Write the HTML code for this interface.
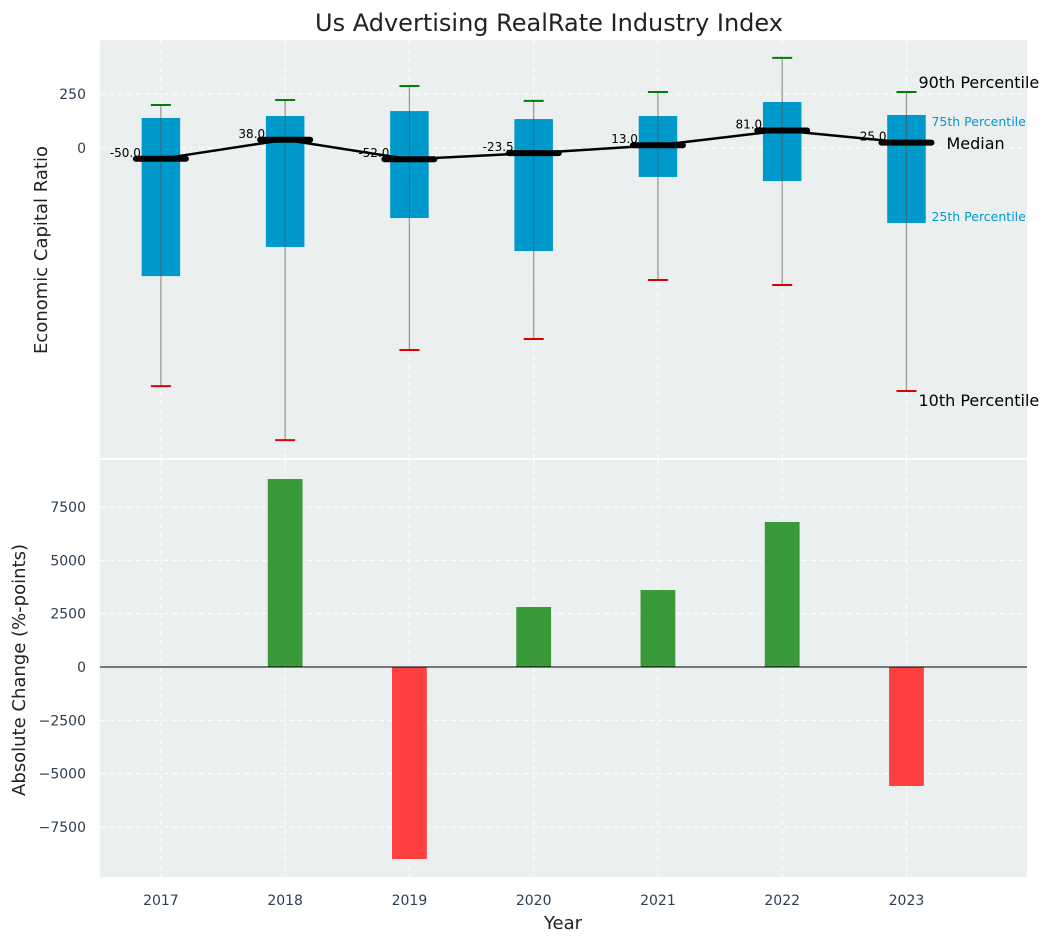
<!DOCTYPE html>
<html><head><meta charset="utf-8"><style>
body{margin:0;background:#fff;font-family:"Liberation Sans","DejaVu Sans",sans-serif}
svg text{font-family:"DejaVu Sans","Liberation Sans",sans-serif}
</style></head><body>
<svg id="c" width="1053" height="942"></svg>
<script>
const years=[2017,2018,2019,2020,2021,2022,2023];
const p10=[-1102,-1352,-935,-884,-611,-634,-1125];
const q1=[-593,-458,-324,-477,-134,-153,-347];
const med=[-50,38,-52,-23.5,13,81,25];
const q3=[139,148,171,134,148,213,153];
const p90=[199,222,287,218,259,417,259];
const change=[0,8812,-9000,2812,3609,6797,-5578];
const topTicks=[0,250];
const botTicks=[-7500,-5000,-2500,0,2500,5000,7500];

const svg=document.getElementById('c');
const NS='http://www.w3.org/2000/svg';
function el(t,a,p){const e=document.createElementNS(NS,t);for(const k in a)e.setAttribute(k,a[k]);(p||svg).appendChild(e);return e;}
const L=100,R=1027;
const x=v=>L+(v-2016.51)/(2023.97-2016.51)*(R-L);
const T0=40,T1=458,B0=460,B1=877;
const yT=v=>T0+(500-v)/(500+1435)*(T1-T0);
const yB=v=>B0+(9703-v)/(9703+9844)*(B1-B0);
const pw=(R-L)/(2023.97-2016.51);

let t=el('rect',{x:L,y:T0,width:R-L,height:T1-T0,fill:'#ebefef'});

t=el('rect',{x:L,y:B0,width:R-L,height:B1-B0,fill:'#ebefef'});


const grid={stroke:'#fff','stroke-dasharray':'5,4','stroke-width':1};
years.forEach(yr=>{el('line',Object.assign({x1:x(yr),x2:x(yr),y1:T0,y2:T1},grid));el('line',Object.assign({x1:x(yr),x2:x(yr),y1:B0,y2:B1},grid));});
topTicks.forEach(v=>{el('line',Object.assign({x1:L,x2:R,y1:yT(v),y2:yT(v)},grid));
 const tx=el('text',{x:L-14,y:yT(v)+5,'text-anchor':'end','font-size':14,fill:'#2e3f50'});tx.textContent=v;
 });
botTicks.forEach(v=>{el('line',Object.assign({x1:L,x2:R,y1:yB(v),y2:yB(v)},grid));
 const tx=el('text',{x:L-14,y:yB(v)+5,'text-anchor':'end','font-size':14,fill:'#2e3f50'});tx.textContent=v<0?'\u2212'+(-v):v;
 });

years.forEach((yr,i)=>{
 const cx=x(yr),bw=0.31*pw;
 const b=el('rect',{x:cx-bw/2,y:yT(q3[i]),width:bw,height:yT(q1[i])-yT(q3[i]),fill:'#0099cc'});
 
 el('line',{x1:cx,x2:cx,y1:yT(p90[i]),y2:yT(p10[i]),stroke:'#555',opacity:0.6,'stroke-width':1.2});
 el('line',{x1:cx-10,x2:cx+10,y1:yT(p90[i]),y2:yT(p90[i]),stroke:'#008000','stroke-width':2});
 el('line',{x1:cx-10,x2:cx+10,y1:yT(p10[i]),y2:yT(p10[i]),stroke:'#e00000','stroke-width':2});
 const c=change[i];
 if(c!==0){const r=el('rect',{x:cx-0.14*pw,y:yB(Math.max(c,0)),width:0.28*pw,height:Math.abs(yB(c)-yB(0)),fill:c>0?'#3a9a3a':'#ff4040'});
  }
 const xl=el('text',{x:cx,y:905,'text-anchor':'middle','font-size':14,fill:'#2e3f50'});xl.textContent=yr;
 
});
const ml=el('polyline',{points:years.map((yr,i)=>x(yr)+','+yT(med[i])).join(' '),fill:'none',stroke:'#000','stroke-width':2.5});

years.forEach((yr,i)=>{
 const cx=x(yr);
 el('line',{x1:cx-25,x2:cx+25,y1:yT(med[i]),y2:yT(med[i]),stroke:'#000','stroke-width':6,'stroke-linecap':'round'});
 const lb=el('text',{x:cx-20,y:yT(med[i])-2,'text-anchor':'end','font-size':12,fill:'#000'});lb.textContent=med[i].toFixed(1);
 
});
el('line',{x1:L,x2:R,y1:yB(0),y2:yB(0),stroke:'#000','stroke-width':1});
const cx=x(2023);
function txt(s,a,n){const e=el('text',a);e.textContent=s;return e;}
txt('90th Percentile',{x:cx+12,y:88,'font-size':16,fill:'#000'},'label-90th');
txt('75th Percentile',{x:cx+25,y:126,'font-size':12.5,fill:'#0099cc'},'label-75th');
txt('Median',{x:cx+40,y:149,'font-size':16,fill:'#000'},'label-median');
txt('25th Percentile',{x:cx+25,y:221,'font-size':12.5,fill:'#0099cc'},'label-25th');
txt('10th Percentile',{x:cx+12,y:406,'font-size':16,fill:'#000'},'label-10th');
txt('Us Advertising RealRate Industry Index',{x:549,y:31,'text-anchor':'middle','font-size':24,fill:'#222'},'chart-title');
txt('Year',{x:563,y:929,'text-anchor':'middle','font-size':18,fill:'#222'},'x-axis-title');
txt('Economic Capital Ratio',{x:47,y:250,'text-anchor':'middle','font-size':18,fill:'#222',transform:'rotate(-90 47 250)'},'y-axis-title-top');
txt('Absolute Change (%-points)',{x:25,y:670,'text-anchor':'middle','font-size':18,fill:'#222',transform:'rotate(-90 25 670)'},'y-axis-title-bottom');
</script>
</body></html>
